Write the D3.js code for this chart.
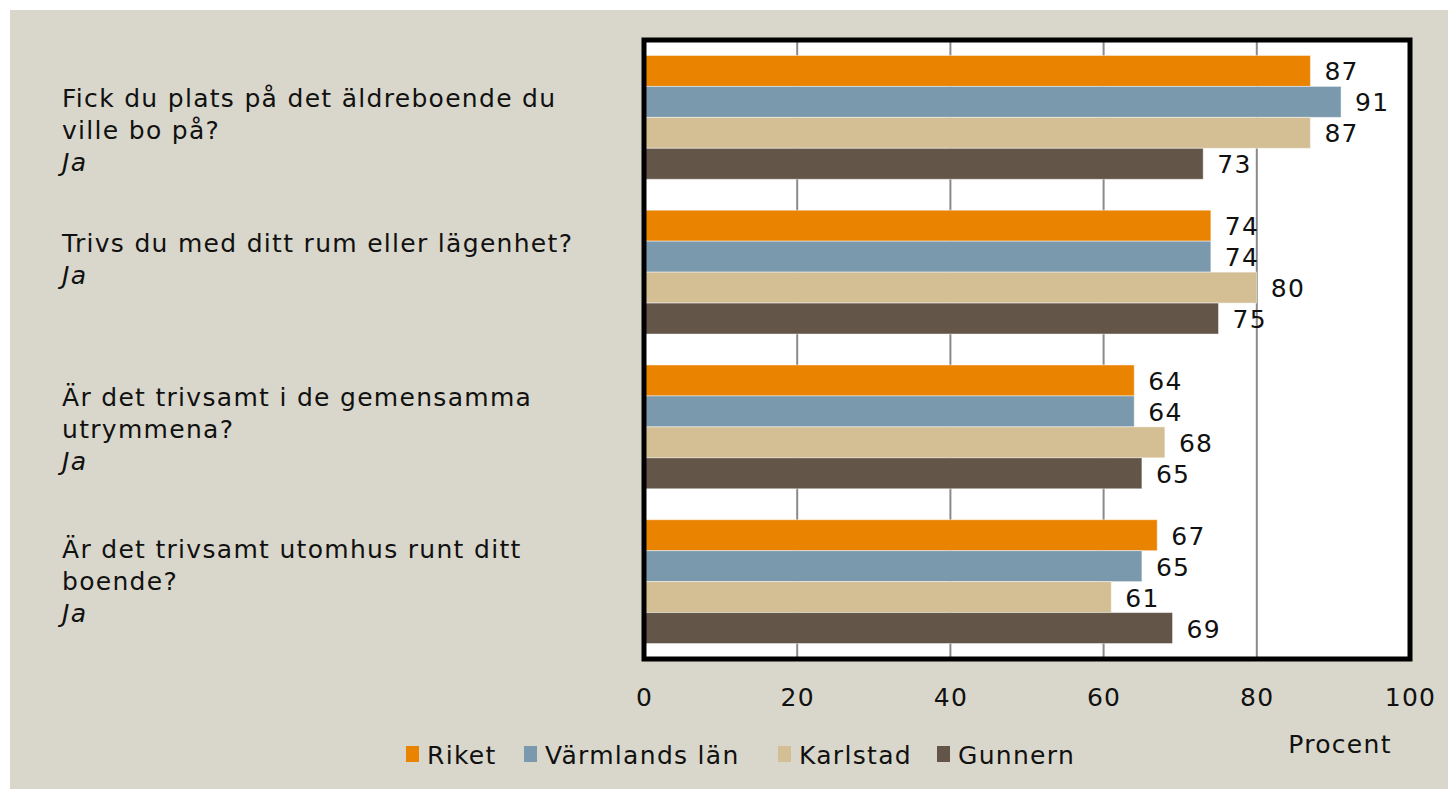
<!DOCTYPE html>
<html>
<head>
<meta charset="utf-8">
<script src="https://cdn.jsdelivr.net/npm/d3@7"></script>
<style>
  html, body { margin: 0; padding: 0; background: #ffffff; }
  svg { display: block; }
  text { font-family: "DejaVu Sans", sans-serif; fill: #111; letter-spacing: 1.3px; }
</style>
</head>
<body>
<svg id="chart" width="1448" height="789"></svg>
<script>
// ---- data ----
const categories = [
  ["Fick du plats på det äldreboende du", "ville bo på?"],
  ["Trivs du med ditt rum eller lägenhet?"],
  ["Är det trivsamt i de gemensamma", "utrymmena?"],
  ["Är det trivsamt utomhus runt ditt", "boende?"]
];
const subLabel = "Ja";
const seriesNames = ["Riket", "Värmlands län", "Karlstad", "Gunnern"];
const riket     = [87, 74, 64, 67];
const varmland  = [91, 74, 64, 65];
const karlstad  = [87, 80, 68, 61];
const gunnern   = [73, 75, 65, 69];
const xTicks = [0, 20, 40, 60, 80, 100];
const axisTitle = "Procent";

// ---- style / layout ----
const colors = ["#E98300", "#7B99AC", "#D4BF95", "#635548"];
const seriesValues = [riket, varmland, karlstad, gunnern];
const W = 1448, H = 789;
const FS = "25px";
const plot = { left: 644, right: 1410, top: 40, bottom: 659 };
const labelOffsets = [13, -13, 3, 0]; // vertical nudge of category text blocks

const svg = d3.select("#chart");
svg.append("rect").attr("x", 10).attr("y", 10).attr("width", W - 10).attr("height", H - 10)
  .attr("fill", "#D9D7CB");

const x = d3.scaleLinear().domain([0, 100]).range([plot.left, plot.right]);
const y0 = d3.scaleBand().domain(d3.range(categories.length))
  .range([plot.top, plot.bottom]).paddingInner(0.2).paddingOuter(0.1);
const y1 = d3.scaleBand().domain(d3.range(seriesNames.length)).range([0, y0.bandwidth()]);

// plot background
svg.append("rect").attr("x", plot.left).attr("y", plot.top)
  .attr("width", plot.right - plot.left).attr("height", plot.bottom - plot.top)
  .attr("fill", "#ffffff");

// gridlines
svg.append("g").selectAll("line").data(xTicks.filter(t => t > 0 && t < 100)).join("line")
  .attr("x1", d => x(d)).attr("x2", d => x(d))
  .attr("y1", plot.top).attr("y2", plot.bottom)
  .attr("stroke", "#8a8a8a").attr("stroke-width", 2);

// bars
const groups = svg.append("g").selectAll("g").data(categories).join("g")
  .attr("transform", (d, i) => `translate(0,${y0(i)})`);
groups.each(function(cat, ci) {
  const g = d3.select(this);
  const rows = seriesValues.map((vals, si) => ({ si, v: vals[ci] }));
  g.selectAll("rect").data(rows).join("rect")
    .attr("x", x(0)).attr("y", d => y1(d.si))
    .attr("width", d => x(d.v) - x(0)).attr("height", y1.bandwidth())
    .attr("fill", d => colors[d.si])
    .attr("stroke", "rgba(255,255,255,0.45)").attr("stroke-width", 1);
  g.selectAll("text.val").data(rows).join("text").attr("class", "val")
    .attr("x", d => x(d.v) + 14).attr("y", d => y1(d.si) + y1.bandwidth() / 2 + 1)
    .attr("dominant-baseline", "central")
    .style("font-size", FS)
    .text(d => d.v);
});

// plot border
svg.append("rect").attr("x", plot.left).attr("y", plot.top)
  .attr("width", plot.right - plot.left).attr("height", plot.bottom - plot.top)
  .attr("fill", "none").attr("stroke", "#000").attr("stroke-width", 5);

// category labels
const lineH = 32;
categories.forEach((lines, i) => {
  const all = lines.concat([subLabel]);
  const cy = y0(i) + y0.bandwidth() / 2 + labelOffsets[i];
  const startY = cy - (all.length - 1) * lineH / 2;
  const t = svg.append("text").attr("x", 62).style("font-size", FS);
  all.forEach((s, k) => {
    t.append("tspan").attr("x", 62).attr("y", startY + k * lineH)
      .attr("dominant-baseline", "central")
      .style("font-style", k === all.length - 1 ? "italic" : "normal")
      .text(s);
  });
});

// x axis
const axis = d3.axisBottom(x).tickValues(xTicks).tickSize(0).tickPadding(0);
const ax = svg.append("g").attr("transform", `translate(0,${plot.bottom})`).call(axis);
ax.select(".domain").remove();
ax.selectAll("text").attr("y", 38).attr("dy", null).attr("dominant-baseline", "central")
  .style("font-size", FS).style("font-family", "DejaVu Sans, sans-serif").attr("fill", "#111");

svg.append("text").attr("x", 1340).attr("y", 744).attr("text-anchor", "middle")
  .attr("dominant-baseline", "central").style("font-size", FS).text(axisTitle);

// legend
const legendX = [406, 524, 778, 937];
const lg = svg.append("g").selectAll("g").data(seriesNames).join("g")
  .attr("transform", (d, i) => `translate(${legendX[i]},754)`);
lg.append("rect").attr("x", 0).attr("y", -8).attr("width", 13).attr("height", 16)
  .attr("fill", (d, i) => colors[i]);
lg.append("text").attr("x", 21).attr("y", 1).attr("dominant-baseline", "central")
  .style("font-size", FS).text(d => d);
</script>
</body>
</html>
